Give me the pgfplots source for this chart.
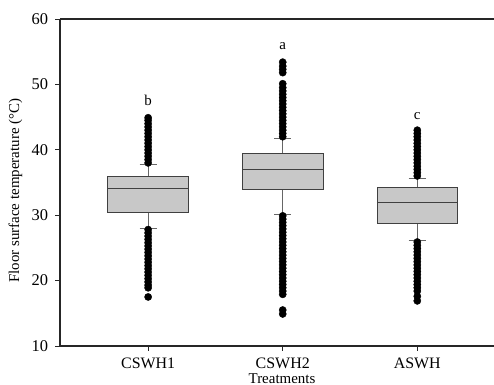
\documentclass[border=0pt]{standalone}
\usepackage{fontspec}
\setmainfont{Liberation Serif}
\usepackage{pgfplots}
\pgfplotsset{compat=1.18}
\usepgfplotslibrary{statistics}
\definecolor{boxfill}{HTML}{C8C8C8}
\definecolor{boxline}{HTML}{404040}
\begin{document}
\begin{tikzpicture}
\begin{axis}[
  name=ax,
  scale only axis, width=434bp, height=327bp,
  xmin=0.345, xmax=3.57, ymin=10, ymax=60,
  axis lines=left,
  axis line style={-, line width=1.1pt, black!85},
  xtick={1,2,3}, xticklabels={CSWH1,CSWH2,ASWH},
  ytick={10,20,30,40,50,60},
  tick align=outside,
  major tick length=4.5bp,
  tick style={black!85, line width=0.8pt},
  /pgf/number format/assume math mode=true,
  ticklabel style={font=\fontsize{16}{18}\selectfont},
  yticklabel style={xshift=-4bp, font=\fontsize{16.5}{18}\selectfont},
  xticklabel style={yshift=-4bp},
  xlabel={Treatments},
  ylabel={Floor surface temperature (\textdegree C)},
  every axis x label/.style={at={(axis description cs:0.5115,0)}, anchor=base, yshift=-37bp, font=\fontsize{15}{17}\selectfont},
  every axis y label/.style={at={(axis description cs:0,0.475)}, anchor=center, rotate=90, yshift=44.5bp, font=\fontsize{15}{17}\selectfont},
  boxplot/draw direction=y,
  boxplot/box extend=0.6,
  boxplot/every box/.style={draw=boxline, fill=boxfill, line width=0.8pt},
  boxplot/every median/.style={draw=boxline, line width=0.8pt},
  boxplot/every whisker/.style={draw=boxline!80, line width=0.7pt},
  boxplot/draw/lower whisker/.code={
    \draw[/pgfplots/boxplot/every whisker/.try]
      (boxplot cs:\pgfplotsboxplotvalue{lower whisker},0) -- (boxplot cs:\pgfplotsboxplotvalue{lower quartile},0);
    \draw[/pgfplots/boxplot/every whisker/.try]
      (boxplot cs:\pgfplotsboxplotvalue{lower whisker},-0.064) -- (boxplot cs:\pgfplotsboxplotvalue{lower whisker},0.064);
  },
  boxplot/draw/upper whisker/.code={
    \draw[/pgfplots/boxplot/every whisker/.try]
      (boxplot cs:\pgfplotsboxplotvalue{upper whisker},0) -- (boxplot cs:\pgfplotsboxplotvalue{upper quartile},0);
    \draw[/pgfplots/boxplot/every whisker/.try]
      (boxplot cs:\pgfplotsboxplotvalue{upper whisker},-0.064) -- (boxplot cs:\pgfplotsboxplotvalue{upper whisker},0.064);
  },
]
% top frame line
\draw[line width=1.1pt, black!85] (rel axis cs:0,1) -- (rel axis cs:1,1);

% CSWH1
\addplot[mark=*, mark size=3.6bp, mark options={fill=black, draw=black},
  boxplot prepared={draw position=1, lower whisker=28.0, lower quartile=30.45,
    median=34.05, upper quartile=36.0, upper whisker=37.7}]
  table[row sep=\\, y index=0] {y\\
  38.0\\38.5\\39.0\\39.5\\40.0\\40.5\\41.0\\41.5\\42.0\\42.5\\43.0\\43.5\\44.0\\44.5\\44.9\\
  27.8\\27.3\\26.8\\26.3\\25.8\\25.3\\24.8\\24.3\\23.8\\23.3\\22.8\\22.3\\21.8\\21.3\\20.8\\20.3\\19.8\\19.3\\18.9\\17.5\\};

% CSWH2
\addplot[mark=*, mark size=3.6bp, mark options={fill=black, draw=black},
  boxplot prepared={draw position=2, lower whisker=30.1, lower quartile=33.9,
    median=37.0, upper quartile=39.45, upper whisker=41.7}]
  table[row sep=\\, y index=0] {y\\
  42.0\\42.5\\43.0\\43.5\\44.0\\44.5\\45.0\\45.5\\46.0\\46.5\\47.0\\47.5\\48.0\\48.5\\49.0\\49.5\\50.1\\
  51.8\\52.3\\52.8\\53.4\\
  29.9\\29.4\\28.9\\28.4\\27.9\\27.4\\26.9\\26.4\\25.9\\25.4\\24.9\\24.4\\23.9\\23.4\\22.9\\22.4\\21.9\\21.4\\20.9\\20.4\\19.9\\19.4\\18.9\\18.4\\17.9\\
  15.5\\14.9\\};

% ASWH
\addplot[mark=*, mark size=3.6bp, mark options={fill=black, draw=black},
  boxplot prepared={draw position=3, lower whisker=26.1, lower quartile=28.8,
    median=31.9, upper quartile=34.3, upper whisker=35.7}]
  table[row sep=\\, y index=0] {y\\
  36.0\\36.5\\37.0\\37.5\\38.0\\38.5\\39.0\\39.5\\40.0\\40.5\\41.0\\41.5\\42.0\\42.5\\43.0\\
  25.9\\25.4\\24.9\\24.4\\23.9\\23.4\\22.9\\22.4\\21.9\\21.4\\20.9\\20.4\\19.9\\19.4\\18.9\\18.4\\17.6\\16.9\\};

\node[font=\fontsize{15}{17}\selectfont] at (axis cs:1,47.6) {b};
\node[font=\fontsize{15}{17}\selectfont] at (axis cs:2,55.9) {a};
\node[font=\fontsize{15}{17}\selectfont] at (axis cs:3,45.1) {c};
\end{axis}
\pgfresetboundingbox
\path[use as bounding box] ([shift={(-60bp,-39bp)}]ax.south west) rectangle ([shift={(0bp,19bp)}]ax.north east);
\end{tikzpicture}
\end{document}
